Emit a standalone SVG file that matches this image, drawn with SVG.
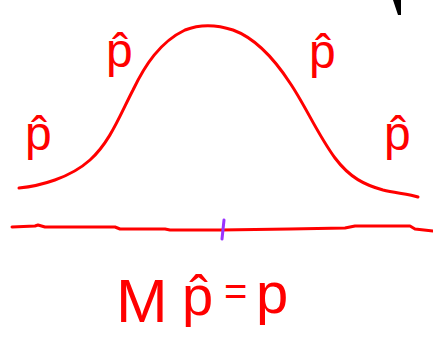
<svg xmlns="http://www.w3.org/2000/svg" width="433" height="350" viewBox="0 0 433 350">
<style>
.ink{fill:none;stroke:#ff0000;stroke-width:3;stroke-linecap:round;stroke-linejoin:round}
.lbl{font-family:"Liberation Sans","DejaVu Sans",sans-serif;fill:#ff0000;font-size:48px}
</style>
<rect width="433" height="350" fill="#ffffff"/>
<g id="curve">
<path class="ink" d="M19,188 C40,186 70,178 90,160 C110,142 120,115 133,90 C145,65 160,42 185,30 C200,24 215,24 233,30 C255,38 275,60 290,83 C305,105 318,135 335,158 C350,178 365,185 383,190 C395,193 410,194 418,197"/>
</g>
<g id="axis">
<path class="ink" d="M12,227 L35,226 L38,225 L45,227 L115,227 L120,229 L165,229 L170,230 L220,230 L290,229 L345,228 L355,226 L410,226 L415,229 L433,231"/>
<line x1="224" y1="220" x2="222" y2="239" stroke="#9933ff" stroke-width="3" stroke-linecap="round"/>
</g>
<polygon points="393,0 401,0 401,15 398,15" fill="#000000"/>
<g id="labels">
<text class="lbl" x="25" y="150">p̂</text>
<text class="lbl" x="106" y="67">p̂</text>
<text class="lbl" x="309" y="68">p̂</text>
<text class="lbl" x="384" y="150">p̂</text>
</g>
<g id="formula">
<text class="lbl"><tspan x="116" y="322" font-size="62">M</tspan><tspan x="182" y="315" font-size="56">p̂</tspan><tspan x="224" y="305" font-size="40">=</tspan><tspan x="256" y="313" font-size="58">p</tspan></text>
</g>
</svg>
